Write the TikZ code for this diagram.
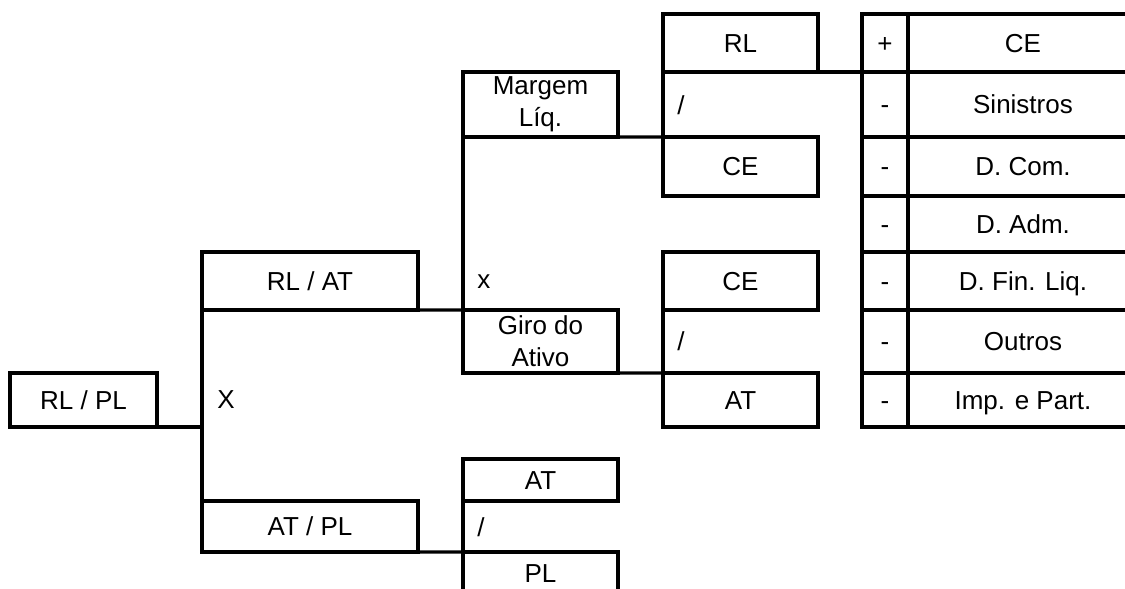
\documentclass[tikz,border=0pt]{standalone}
\usepackage{fontspec}
\setmainfont{Liberation Sans}
\tikzset{
  cell/.style={draw, line width=1.8pt, inner sep=0pt, outer sep=0pt, anchor=north west,
    align=center, font=\fontsize{14.8}{18}\selectfont},
  single/.style={cell, text height=10.6pt, text depth=0pt},
  narrow/.style={single, minimum width=3.1cm},
  twoline/.style={cell, minimum width=3.1cm},
  wide/.style={single, minimum width=4.32cm},
  sign/.style={single, minimum width=0.92cm},
  item/.style={single, minimum width=4.6cm},
  link/.style={draw, line width=1.8pt, line cap=square},
  lab/.style={anchor=west, inner sep=0pt, font=\fontsize{14.8}{18}\selectfont},
}

\begin{document}
\begin{tikzpicture}[x=0.02cm, y=-0.02cm]
  \useasboundingbox (0,0) rectangle (1125,588);
  \clip (0,0) rectangle (1125,588);

  % first level
  \node[single, minimum width=2.94cm, minimum height=1.08cm] (rlpl) at (10,373) {RL / PL};

  % second level
  \node[wide, minimum height=1.16cm] (rlat) at (202,252) {RL / AT};
  \node[wide, minimum height=1.02cm] (atpl) at (202,501) {AT / PL};

  % third level
  \node[twoline, minimum height=1.30cm] (margem) at (463,72) {Margem\\Líq.};
  \node[twoline, minimum height=1.26cm] (giro) at (463,310) {Giro do\\Ativo};
  \node[narrow, minimum height=0.84cm] (atA) at (463,459) {AT};
  \node[narrow, minimum height=0.86cm] (plA) at (463,552) {PL};

  % fourth level
  \node[narrow, minimum height=1.16cm] (rl) at (663,14) {RL};
  \node[narrow, minimum height=1.18cm] (ceA) at (663,137) {CE};
  \node[narrow, minimum height=1.16cm] (ceB) at (663,252) {CE};
  \node[narrow, minimum height=1.08cm] (atB) at (663,373) {AT};

  % breakdown of RL
  \node[sign, minimum height=1.16cm] (s1) at (862,14) {+};
  \node[sign, minimum height=1.30cm] (s2) at (862,72) {-};
  \node[sign, minimum height=1.18cm] (s3) at (862,137) {-};
  \node[sign, minimum height=1.12cm] (s4) at (862,196) {-};
  \node[sign, minimum height=1.16cm] (s5) at (862,252) {-};
  \node[sign, minimum height=1.26cm] (s6) at (862,310) {-};
  \node[sign, minimum height=1.08cm] (s7) at (862,373) {-};
  \node[item, minimum height=1.16cm] (v1) at (908,14) {CE};
  \node[item, minimum height=1.30cm] (v2) at (908,72) {Sinistros};
  \node[item, minimum height=1.18cm] (v3) at (908,137) {D. Com.};
  \node[item, minimum height=1.12cm] (v4) at (908,196) {D. Adm.};
  \node[item, minimum height=1.16cm] (v5) at (908,252) {D. Fin. Liq.};
  \node[item, minimum height=1.26cm] (v6) at (908,310) {Outros};
  \node[item, minimum height=1.08cm] (v7) at (908,373) {Imp. e Part.};

  % operators
  \node[lab] (opX) at (217,400) {X};
  \node[lab] (opx) at (477,282) {x};
  \node[lab] (divA) at (677,105) {/};
  \node[lab] (divB) at (677,341) {/};
  \node[lab] (divC) at (477,527) {/};

  % connectors
  \draw[link] (rlpl.south east) -- (rlpl.south east -| rlat.south west);
  \draw[link] (rlat.south west) -- (atpl.north west);
  \draw[link] (rlat.south east) -- (giro.north west);
  \draw[link] (atpl.south east) -- (plA.north west);
  \draw[link] (margem.south west) -- (giro.north west);
  \draw[link] (margem.south east) -- (ceA.north west);
  \draw[link] (giro.south east) -- (atB.north west);
  \draw[link] (atA.south west) -- (plA.north west);
  \draw[link] (rl.south west) -- (ceA.north west);
  \draw[link] (ceB.south west) -- (atB.north west);
  \draw[link] (rl.south east) -- (s1.south west);
\end{tikzpicture}
\end{document}
